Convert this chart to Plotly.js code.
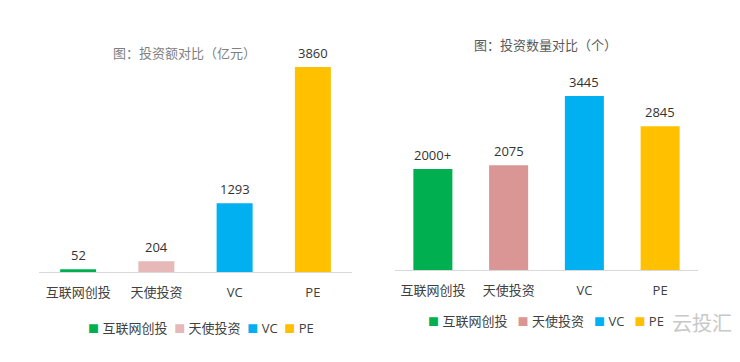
<!DOCTYPE html>
<html><head><meta charset="utf-8">
<script src="https://cdn.plot.ly/plotly-3.0.1.min.js"></script>
<style>html,body{margin:0;padding:0;background:#fff}</style>
</head><body><div id="chart" style="width:740px;height:362px"></div>
<script>
const categories = ['互联网创投', '天使投资', 'VC', 'PE'];
const amountValues = [52, 204, 1293, 3860];
const amountLabels = ['52', '204', '1293', '3860'];
const countValues = [2000, 2075, 3445, 2845];
const countLabels = ['2000+', '2075', '3445', '2845'];
const leftTitle = '图：投资额对比（亿元）';
const rightTitle = '图：投资数量对比（个）';
const colorsLeft = ['#00B050', '#E6B8B7', '#00B0F0', '#FFC000'];
const colorsRight = ['#00B050', '#D99694', '#00B0F0', '#FFC000'];
const watermark = '云投汇';

const W = 740, H = 362;
const FONT = 'Open Sans, Noto Sans CJK SC, sans-serif';
const px = v => v / W;
const py = v => 1 - v / H;

const traces = [
  {type: 'bar', x: categories, y: amountValues, xaxis: 'x', yaxis: 'y',
   marker: {color: colorsLeft}, width: 0.46, showlegend: false, hoverinfo: 'none'},
  {type: 'bar', x: categories, y: countValues, xaxis: 'x2', yaxis: 'y2',
   marker: {color: colorsRight}, width: 0.515, showlegend: false, hoverinfo: 'none'}
];

function valueAnn(xref, yref, xs, ys, labels) {
  return xs.map((c, i) => ({
    x: c, y: ys[i], xref: xref, yref: yref, text: labels[i],
    showarrow: false, yanchor: 'bottom', yshift: 3,
    font: {family: FONT, size: 13, color: '#333333'}
  }));
}
function legendText(colors, sep) {
  return categories.map((c, i) =>
    '<span style="color:' + colors[i] + ';font-size:11px">■</span> ' + c).join(sep);
}

const axX = {
  type: 'category', range: [-0.5, 3.5], showline: true, linecolor: '#d9d9d9', linewidth: 1,
  ticks: '', showgrid: false, zeroline: false, fixedrange: true, ticklabelstandoff: 8,
  tickfont: {family: FONT, size: 13, color: '#404040'}
};
const axY = {visible: false, showgrid: false, zeroline: false, fixedrange: true};

const layout = {
  width: W, height: H, margin: {l: 0, r: 0, t: 0, b: 0},
  paper_bgcolor: '#ffffff', plot_bgcolor: '#ffffff', showlegend: false,
  xaxis: Object.assign({}, axX, {domain: [px(39), px(352)], anchor: 'y'}),
  yaxis: Object.assign({}, axY, {domain: [py(272), py(40)], range: [0, 4369], anchor: 'x'}),
  xaxis2: Object.assign({}, axX, {domain: [px(395), px(698)], anchor: 'y2'}),
  yaxis2: Object.assign({}, axY, {domain: [py(270), py(40)], range: [0, 4554], anchor: 'x2'}),
  annotations: [].concat(
    valueAnn('x', 'y', categories, amountValues, amountLabels),
    valueAnn('x2', 'y2', categories, countValues, countLabels),
    [
      {xref: 'paper', yref: 'paper', x: px(184), y: py(53), text: leftTitle, showarrow: false,
       xanchor: 'center', yanchor: 'middle', font: {family: FONT, size: 13, color: '#808080'}},
      {xref: 'paper', yref: 'paper', x: px(545), y: py(45), text: rightTitle, showarrow: false,
       xanchor: 'center', yanchor: 'middle', font: {family: FONT, size: 13, color: '#595959'}},
      {xref: 'paper', yref: 'paper', x: px(201), y: py(328), text: legendText(colorsLeft, '  '), showarrow: false,
       xanchor: 'center', yanchor: 'middle', font: {family: FONT, size: 13, color: '#404040'}},
      {xref: 'paper', yref: 'paper', x: px(546), y: py(321), text: legendText(colorsRight, '   '), showarrow: false,
       xanchor: 'center', yanchor: 'middle', font: {family: FONT, size: 13, color: '#404040'}},
      {xref: 'paper', yref: 'paper', x: px(702), y: py(322), text: watermark, showarrow: false,
       xanchor: 'center', yanchor: 'middle', font: {family: 'Noto Sans CJK SC, sans-serif', size: 20, color: '#c8c8c8'}}
    ]
  )
};

Plotly.newPlot('chart', traces, layout, {displayModeBar: false, staticPlot: true});
</script>
</body></html>
